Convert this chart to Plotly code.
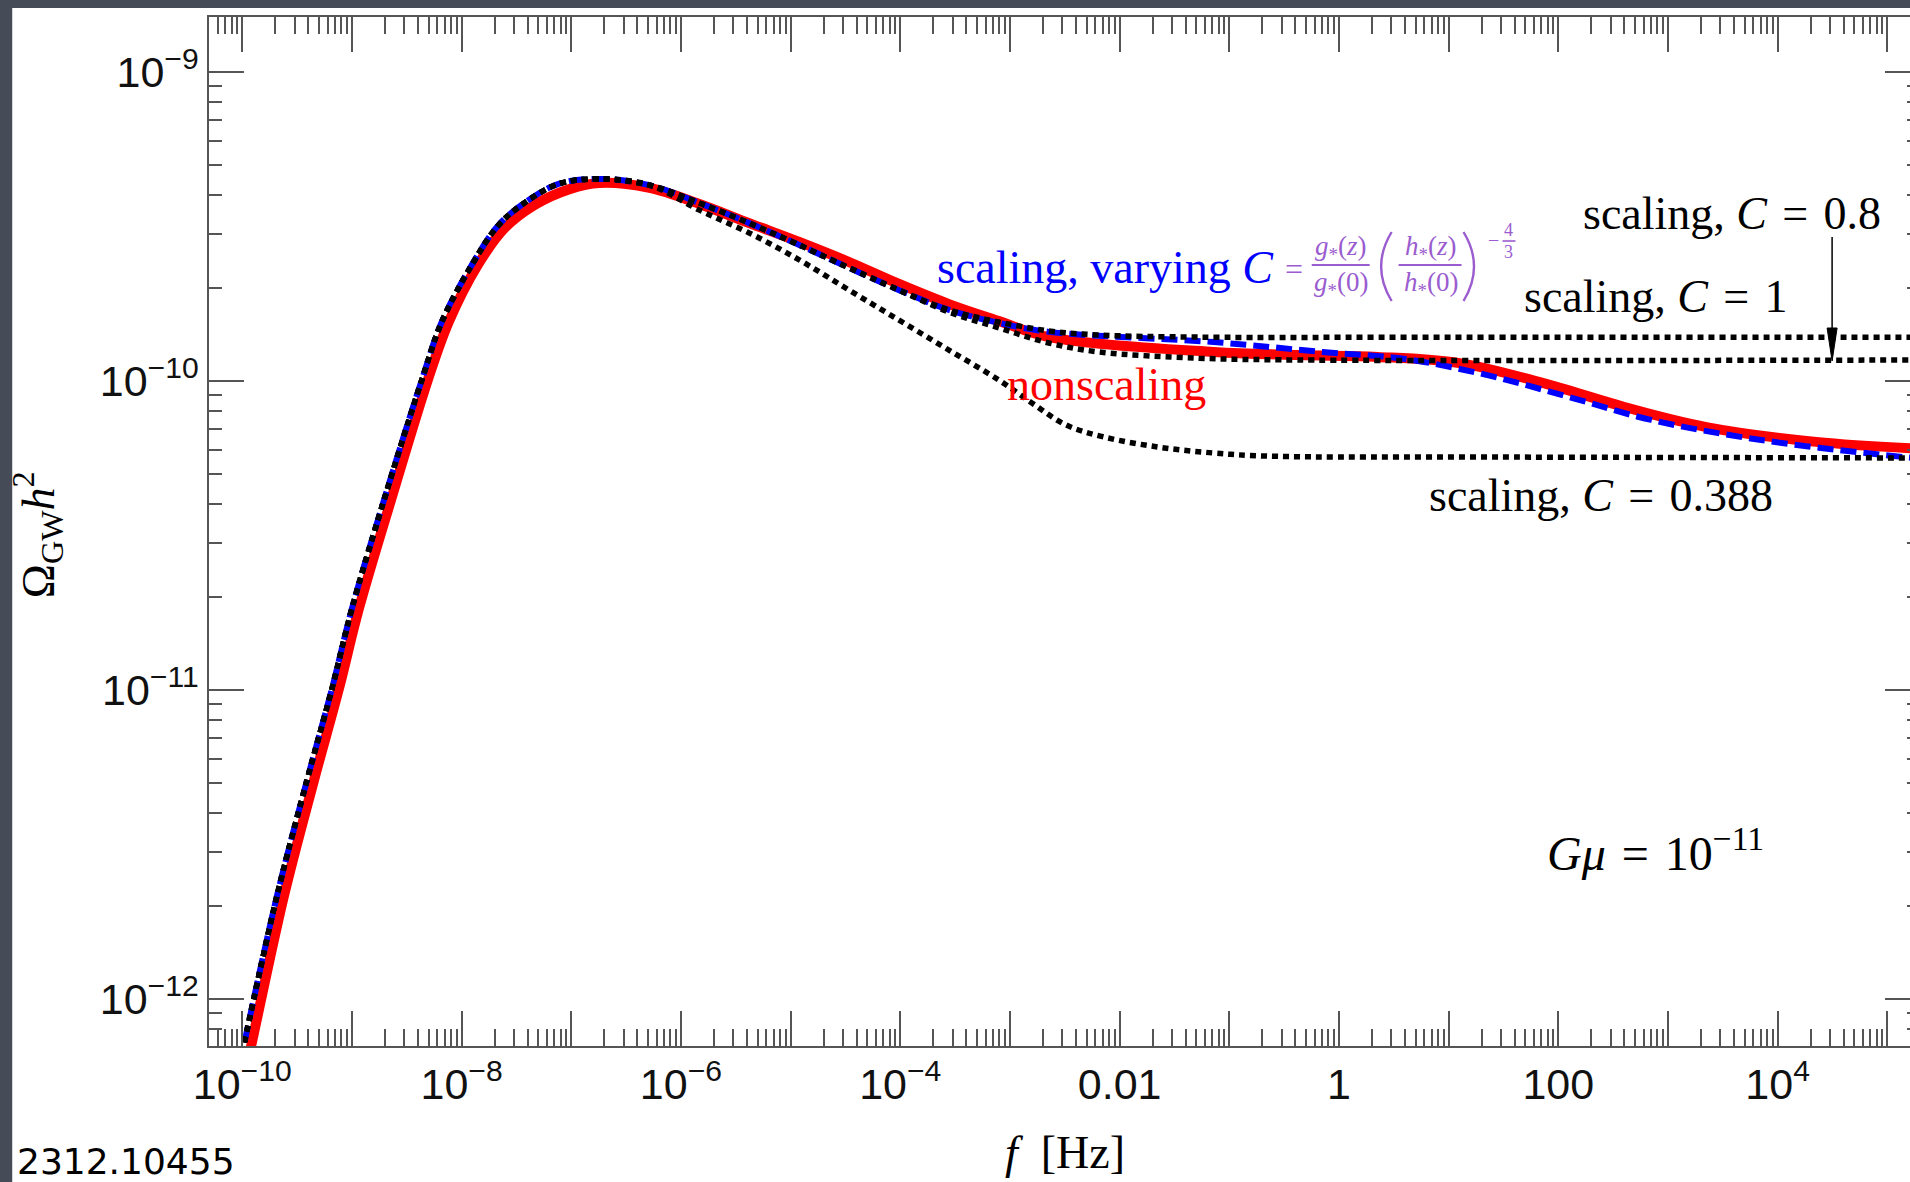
import numpy as np
import plotly.graph_objects as go

# ---------------- data (log10 values) ----------------
logf_nonscaling = [-9.95, -9.919, -9.620, -9.347, -9.119, -8.937, -8.627, -8.308, -8.117, -7.853,
                   -7.607, -7.334, -7.015, -6.742, -6.287, -5.832, -5.377, -4.921, -4.466, -4.011,
                   -3.556, -3.100, -2.645, -1.142, -0.364, 0.353, 1.100, 1.856, 2.603, 3.350,
                   4.352, 5.300]
logO_nonscaling = [-12.20, -12.152, -11.667, -11.294, -10.997, -10.738, -10.366, -9.997, -9.809, -9.625,
                   -9.505, -9.430, -9.379, -9.359, -9.375, -9.427, -9.489, -9.550, -9.615, -9.686,
                   -9.751, -9.806, -9.858, -9.906, -9.916, -9.922, -9.942, -10.006, -10.084, -10.149,
                   -10.197, -10.219]

logf_varying = [-10.02, -9.985, -9.684, -9.411, -9.183, -9.001, -8.691, -8.363, -8.181, -7.908,
                -7.662, -7.416, -7.116, -6.742, -6.287, -5.832, -5.377, -4.921, -4.466, -4.011,
                -3.556, -3.100, -2.645, -1.142, -0.150, 0.606, 1.353, 2.100, 2.847, 3.849,
                5.151, 5.300]
logO_varying = [-12.21, -12.149, -11.667, -11.294, -10.997, -10.738, -10.366, -9.997, -9.809, -9.625,
                -9.495, -9.421, -9.362, -9.346, -9.366, -9.424, -9.489, -9.560, -9.634, -9.706,
                -9.770, -9.812, -9.841, -9.874, -9.906, -9.929, -9.981, -10.052, -10.126, -10.191,
                -10.246, -10.250]

logf_C1 = [-10.02, -9.985, -9.684, -9.411, -9.183, -9.001, -8.691, -8.363, -8.181, -7.908,
           -7.662, -7.416, -7.116, -6.742, -6.287, -5.832, -5.377, -4.921, -4.466, -4.011,
           -3.556, -3.100, -2.645, -2.189, -1.279, 1.0, 5.300]
logO_C1 = [-12.21, -12.149, -11.667, -11.294, -10.997, -10.738, -10.366, -9.997, -9.809, -9.625,
           -9.495, -9.421, -9.362, -9.346, -9.366, -9.424, -9.489, -9.560, -9.634, -9.706,
           -9.770, -9.809, -9.838, -9.851, -9.858, -9.858, -9.858]

logf_C08 = [-10.02, -9.985, -9.684, -9.411, -9.183, -9.001, -8.691, -8.363, -8.181, -7.908,
            -7.662, -7.416, -7.116, -6.742, -6.287, -5.832, -5.377, -4.921, -4.466, -4.011,
            -3.556, -3.100, -2.645, -2.189, -1.279, -0.364, 5.300]
logO_C08 = [-12.21, -12.149, -11.667, -11.294, -10.997, -10.738, -10.366, -9.997, -9.809, -9.625,
            -9.495, -9.421, -9.362, -9.346, -9.366, -9.424, -9.489, -9.560, -9.634, -9.706,
            -9.777, -9.828, -9.877, -9.906, -9.926, -9.932, -9.932]

logf_C0388 = [-10.02, -9.985, -9.684, -9.411, -9.183, -9.001, -8.691, -8.363, -8.181, -7.908,
              -7.662, -7.416, -7.116, -6.742, -6.287, -5.832, -5.377, -4.921, -4.466, -4.011,
              -3.556, -3.100, -2.800, -2.490, -2.144, -1.643, -1.142, -0.650, 1.454, 5.300]
logO_C0388 = [-12.21, -12.149, -11.667, -11.294, -10.997, -10.738, -10.366, -9.997, -9.809, -9.625,
              -9.495, -9.421, -9.362, -9.346, -9.366, -9.447, -9.521, -9.608, -9.706, -9.803,
              -9.900, -9.997, -10.071, -10.142, -10.181, -10.214, -10.233, -10.243, -10.246, -10.249]

x_tick_exponents = list(range(-10, 6))
x_tick_labels = ["10<sup>−10</sup>", "", "10<sup>−8</sup>", "", "10<sup>−6</sup>", "",
                 "10<sup>−4</sup>", "", "0.01", "", "1", "", "100", "", "10<sup>4</sup>", ""]
y_tick_exponents = [-12, -11, -10, -9]
y_tick_labels = ["10<sup>−12</sup>", "10<sup>−11</sup>", "10<sup>−10</sup>", "10<sup>−9</sup>"]

# ---------------- layout geometry (pixels) ----------------
W, H = 1924, 1182
PL, PR, PT, PB = 209, 1922, 17, 1046


def px(x):
    return (x - PL) / (PR - PL)


def py(y):
    return (PB - y) / (PB - PT)


def tolin(a):
    return [10.0 ** v for v in a]


fig = go.Figure()
fig.add_trace(go.Scatter(x=tolin(logf_nonscaling), y=tolin(logO_nonscaling), mode="lines",
                         line=dict(color="#ff0000", width=10, shape="spline", smoothing=1.0),
                         name="nonscaling"))
fig.add_trace(go.Scatter(x=tolin(logf_varying), y=tolin(logO_varying), mode="lines",
                         line=dict(color="#0000ff", width=6, dash="16px,7px", shape="spline", smoothing=1.0),
                         name="scaling, varying C"))
for lf, lo, nm in [(logf_C1, logO_C1, "C=1"), (logf_C08, logO_C08, "C=0.8"), (logf_C0388, logO_C0388, "C=0.388")]:
    fig.add_trace(go.Scatter(x=tolin(lf), y=tolin(lo), mode="lines",
                             line=dict(color="#000000", width=5.5, dash="6px,5px", shape="spline", smoothing=1.0),
                             name=nm))

axcol = "#555555"
x_minor = [m * 10.0 ** k for k in range(-11, 6) for m in range(2, 10)]
y_minor = [m * 10.0 ** k for k in range(-13, -8) for m in range(2, 10)]
tickfont = dict(family="Liberation Sans", size=43, color="#111111")

fig.update_xaxes(type="log", range=[-10.303, 5.298], tickmode="array",
                 tickvals=[10.0 ** k for k in x_tick_exponents], ticktext=x_tick_labels,
                 ticks="inside", ticklen=35, tickwidth=1.5, tickcolor=axcol,
                 showline=True, linecolor=axcol, linewidth=1.5, mirror="allticks",
                 showgrid=False, zeroline=False, tickfont=tickfont,
                 minor=dict(tickmode="array", tickvals=x_minor, ticks="inside", ticklen=17,
                            tickwidth=1.5, tickcolor=axcol, showgrid=False))
fig.update_yaxes(type="log", range=[-12.152, -8.822], tickmode="array",
                 tickvals=[10.0 ** k for k in y_tick_exponents], ticktext=y_tick_labels,
                 ticks="inside", ticklen=35, tickwidth=1.5, tickcolor=axcol,
                 showline=True, linecolor=axcol, linewidth=1.5, mirror="allticks",
                 showgrid=False, zeroline=False, tickfont=tickfont,
                 minor=dict(tickmode="array", tickvals=y_minor, ticks="inside", ticklen=13,
                            tickwidth=1.5, tickcolor=axcol, showgrid=False))

serif = "Liberation Serif, Times New Roman, serif"
purple = "#9a5ccf"
shapes = [
    # white slide area
    dict(type="rect", xref="paper", yref="paper", x0=px(12), x1=px(1940), y0=py(1200), y1=py(8),
         fillcolor="white", line=dict(width=0), layer="below"),
    # fraction bars
    dict(type="line", xref="paper", yref="paper", x0=px(1313), x1=px(1371), y0=py(265), y1=py(265),
         line=dict(color=purple, width=2.2)),
    dict(type="line", xref="paper", yref="paper", x0=px(1400), x1=px(1463), y0=py(265), y1=py(265),
         line=dict(color=purple, width=2.2)),
    dict(type="line", xref="paper", yref="paper", x0=px(1504), x1=px(1517), y0=py(241), y1=py(241),
         line=dict(color=purple, width=1.6)),
    # parentheses
    dict(type="path", xref="paper", yref="paper",
         path=f"M {px(1393)},{py(232)} Q {px(1372)},{py(266.5)} {px(1393)},{py(301)}",
         line=dict(color=purple, width=2.4)),
    dict(type="path", xref="paper", yref="paper",
         path=f"M {px(1465)},{py(232)} Q {px(1486)},{py(266.5)} {px(1465)},{py(301)}",
         line=dict(color=purple, width=2.4)),
    # arrow
    dict(type="line", xref="paper", yref="paper", x0=px(1834), x1=px(1834), y0=py(237), y1=py(335),
         line=dict(color="black", width=1.5)),
    dict(type="path", xref="paper", yref="paper",
         path=f"M {px(1829)},{py(328)} L {px(1839)},{py(328)} L {px(1834)},{py(361)} Z",
         fillcolor="black", line=dict(color="black", width=1)),
]


def ann(text, x, y, size, color="black", family=serif, xanchor="left", yanchor="middle", angle=0):
    return dict(text=text, x=px(x), y=py(y), xref="paper", yref="paper", showarrow=False,
                xanchor=xanchor, yanchor=yanchor, textangle=angle,
                font=dict(family=family, size=size, color=color))


EQ = "\u2004=\u2004"
annotations = [
    ann("scaling, varying <i>C</i>", 936, 267, 46, color="#0000ff"),
    ann("=", 1295, 269, 32, color=purple, xanchor="center"),
    ann("<i>g</i><sub>*</sub>(<i>z</i>)", 1342, 248, 27, color=purple, xanchor="center"),
    ann("<i>g</i><sub>*</sub>(0)", 1342, 284, 27, color=purple, xanchor="center"),
    ann("<i>h</i><sub>*</sub>(<i>z</i>)", 1432, 248, 27, color=purple, xanchor="center"),
    ann("<i>h</i><sub>*</sub>(0)", 1432, 284, 27, color=purple, xanchor="center"),
    ann("−", 1495, 240, 20, color=purple, xanchor="center"),
    ann("4", 1510, 230, 18, color=purple, xanchor="center"),
    ann("3", 1510, 252, 18, color=purple, xanchor="center"),
    ann("scaling, <i>C</i>" + EQ + "0.8", 1583, 213, 46),
    ann("scaling, <i>C</i>" + EQ + "1", 1524, 296, 46),
    ann("nonscaling", 1006, 384, 46, color="#ff0000"),
    ann("scaling, <i>C</i>" + EQ + "0.388", 1428, 495, 46),
    ann("<i>Gμ</i>\u2004=\u200410<sup>−11</sup>", 1547, 850, 48),
    ann("Ω<sub>GW</sub><i>h</i><sup>2</sup>", 37, 535, 46, xanchor="center", angle=-90),
    ann("<i>f</i>  [Hz]", 1066, 1152, 46, xanchor="center"),
    ann("2312.10455", 15, 1161, 36, family="DejaVu Sans"),
]

fig.update_layout(width=W, height=H, autosize=False,
                  margin=dict(l=PL, r=W - PR, t=PT, b=H - PB, pad=0),
                  paper_bgcolor="#454b57", plot_bgcolor="white",
                  showlegend=False, shapes=shapes, annotations=annotations)

fig.write_html("out.html", config={"displayModeBar": False},
               post_script="document.body.style.margin='0';document.body.style.overflow='hidden';"
                           "document.documentElement.style.overflow='hidden';")
